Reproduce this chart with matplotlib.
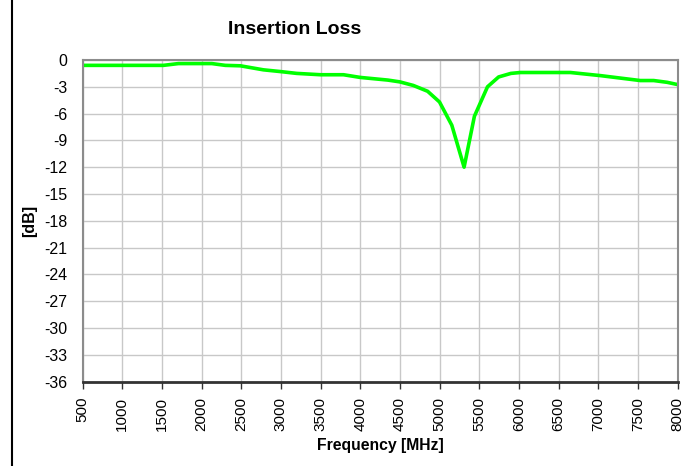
import matplotlib
matplotlib.use("Agg")
import matplotlib.pyplot as plt
from matplotlib.lines import Line2D

plt.rcParams['font.family'] = ['Liberation Sans', 'DejaVu Sans']

# insertion loss
freq_mhz = [500, 1000, 1520, 1710, 2130, 2300, 2490, 2780, 3000, 3200, 3500,
            3790, 4000, 4350, 4500, 4670, 4850, 5000, 5155, 5310, 5440, 5605,
            5745, 5900, 6020, 6650, 7030, 7530, 7700, 7870, 8000]
loss_db = [-0.6, -0.6, -0.6, -0.4, -0.4, -0.6, -0.65, -1.1, -1.3, -1.5, -1.65,
           -1.65, -1.95, -2.25, -2.45, -2.85, -3.5, -4.7, -7.3, -12.0, -6.3,
           -3.0, -1.9, -1.5, -1.4, -1.4, -1.75, -2.3, -2.3, -2.5, -2.75]

x_ticks = list(range(500, 8001, 500))
y_ticks = list(range(-36, 1, 3))

fig = plt.figure(figsize=(6.94, 4.66), dpi=100)
ax = fig.add_axes([82.5 / 694, 1 - 381.5 / 466, 595 / 694, 321.5 / 466])

ax.plot(freq_mhz, loss_db, color='#00ff00', lw=2.6, solid_joinstyle='round')

ax.set_xlim(500, 8000)
ax.set_ylim(-36, 0)
ax.set_xticks(x_ticks)
ax.set_yticks(y_ticks)
ax.set_xticklabels([str(t) for t in x_ticks], rotation=90, fontsize=11)
ax.set_yticklabels([str(t) for t in y_ticks], fontsize=11.5)
ax.grid(True, color='#c8c8c8', lw=1)
ax.set_axisbelow(True)
for s in ax.spines.values():
    s.set_color('#8c8c8c')
    s.set_linewidth(1.5)
ax.spines['bottom'].set_color('#333333')
ax.spines['bottom'].set_linewidth(2)
ax.tick_params(axis='x', direction='out', length=5, width=1, color='#333333', pad=6)
ax.tick_params(axis='y', length=0, pad=11)

ax.set_xlabel('Frequency [MHz]', fontsize=11.3, fontweight='bold')
ax.xaxis.set_label_coords(0.5, (381.5 - 438) / 321.5)
ax.set_ylabel('[dB]', fontsize=11.5, fontweight='bold', labelpad=5)

fig.text(295 / 694, 1 - 29 / 466, 'Insertion Loss', fontsize=14, fontweight='bold',
         ha='center', va='center')

# left border of the chart box
fig.add_artist(Line2D([12 / 694, 12 / 694], [0, 1], color='black', lw=1.5,
                      transform=fig.transFigure))

fig.savefig('out.png', dpi=100)
